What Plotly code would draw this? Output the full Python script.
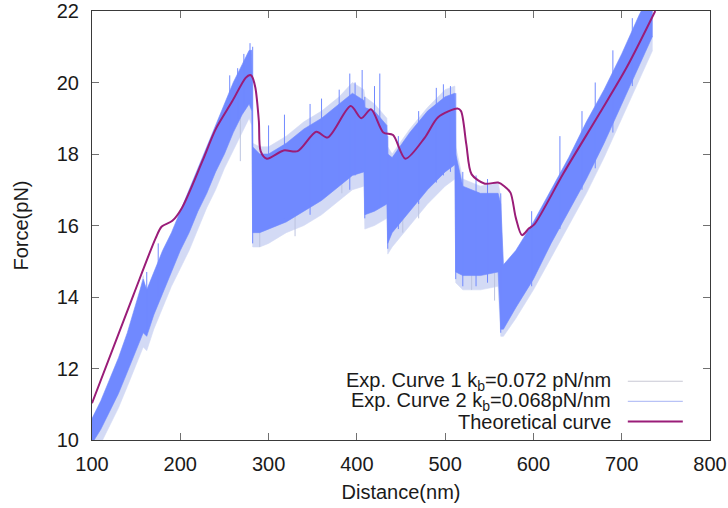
import plotly.graph_objects as go

# ---------------- data ----------------
# experimental force-extension traces: envelope of the noisy signal
x_exp = [100, 110, 120, 130, 140, 150, 158, 162, 170, 180, 190, 200, 210, 220, 230, 240, 250, 260, 270, 278, 281,
         282, 290, 300, 320, 340, 360, 380, 395, 408,
         409, 420, 434,
         435, 440, 460, 480, 500, 511,
         512, 520, 540, 560,
         563, 566, 580, 600, 620, 640, 660, 680, 700, 720, 735]
# Exp. curve 2 (dense blue core)
lo2 = [9.9, 10.3, 10.8, 11.3, 11.9, 12.5, 13.0, 12.9, 13.5, 14.1, 14.7, 15.3, 15.8, 16.4, 16.9, 17.5, 18.0, 18.6, 19.1, 19.4, 19.2,
       15.8, 15.8, 15.9, 16.1, 16.4, 16.7, 17.1, 17.4, 17.5,
       16.3, 16.4, 16.6,
       15.5, 15.8, 16.4, 17.0, 17.5, 17.7,
       14.7, 14.6, 14.6, 14.7,
       13.1, 13.1, 13.7, 14.5, 15.5, 16.4, 17.3, 18.3, 19.4, 20.5, 21.3]
hi2 = [10.6, 11.1, 11.7, 12.3, 13.0, 13.8, 14.5, 14.2, 14.7, 15.3, 15.8, 16.4, 17.0, 17.6, 18.2, 18.8, 19.4, 20.0, 20.5, 20.9, 20.9,
       18.2, 18.0, 18.0, 18.3, 18.7, 19.0, 19.4, 19.7, 19.5,
       19.3, 19.2, 18.8,
       18.0, 17.9, 18.6, 19.2, 19.6, 19.7,
       18.0, 17.1, 16.9, 16.9,
       16.6, 14.9, 15.3, 16.1, 17.0, 17.9, 18.9, 19.8, 20.8, 21.9, 22.6]
# Exp. curve 1 (light trace, slightly lower)
lo1 = [9.6, 9.9, 10.4, 10.9, 11.5, 12.1, 12.6, 12.5, 13.1, 13.7, 14.3, 14.8, 15.3, 15.9, 16.5, 17.0, 17.6, 18.1, 18.6, 19.0, 18.8,
       15.4, 15.4, 15.5, 15.8, 16.0, 16.3, 16.7, 17.0, 17.1,
       15.9, 16.0, 16.2,
       15.2, 15.4, 16.0, 16.6, 17.1, 17.3,
       14.4, 14.2, 14.2, 14.3,
       12.9, 12.9, 13.4, 14.2, 15.1, 16.0, 16.9, 17.9, 19.0, 20.1, 20.9]
hi1 = [10.5, 11.0, 11.5, 12.1, 12.8, 13.6, 14.6, 14.0, 14.6, 15.2, 15.7, 16.3, 16.9, 17.5, 18.1, 18.7, 19.3, 19.9, 20.4, 20.8, 20.8,
       18.3, 18.2, 18.2, 18.5, 18.9, 19.2, 19.6, 20.0, 19.8,
       19.6, 19.4, 19.0,
       18.2, 18.0, 18.7, 19.3, 19.8, 19.9,
       18.2, 17.3, 17.1, 17.2,
       16.8, 14.8, 15.2, 16.0, 16.9, 17.8, 18.8, 19.7, 20.7, 21.8, 22.5]

# prominent noise spikes visible in the traces (x, bottom, top)
spk2_x = [162, 175, 256, 265, 272, 279, 282, 300, 318, 347, 360, 380, 392, 398, 406, 409, 420, 426, 435, 447,
          470, 490, 498, 506, 512, 520, 535, 548, 563, 598, 630, 655, 670, 690, 712]
spk2_lo = [13.0, 14.0, 18.5, 19.0, 19.3, 19.5, 15.5, 16.0, 16.2, 16.3, 16.8, 17.2, 17.0, 17.4, 17.6, 16.2, 16.5, 16.6, 15.35, 15.9,
           16.6, 17.2, 17.4, 17.5, 14.5, 14.3, 14.3, 14.4, 13.0, 14.3, 15.9, 17.0, 17.6, 18.6, 19.9]
spk2_hi = [14.7, 15.5, 20.2, 20.4, 20.8, 21.1, 21.0, 18.8, 19.1, 19.4, 19.55, 19.8, 20.25, 20.0, 20.35, 19.6, 19.9, 20.25, 18.5, 18.5,
           19.2, 19.85, 19.95, 19.9, 19.7, 17.5, 17.4, 17.3, 16.9, 16.4, 18.5, 19.2, 20.0, 20.9, 21.8]
spk1_x = [268, 290, 330, 383, 452, 470, 530, 556]
spk1_lo = [17.8, 15.4, 15.7, 16.9, 15.8, 16.2, 14.2, 13.9]
spk1_hi = [19.5, 17.0, 17.5, 18.6, 17.5, 18.0, 15.5, 15.0]

# theoretical curve
x_th = [100, 147, 172, 179, 191, 202, 225, 240, 259, 274, 279, 281, 285, 289, 291, 298, 317, 333, 354, 367,
        393, 405, 416, 430, 441, 455, 477, 492, 514, 518, 524, 530, 545, 560, 567, 574, 580, 587, 595, 601,
        634, 675, 706, 738]
y_th = [11.03, 14.06, 15.64, 15.97, 16.13, 16.5, 17.8, 18.69, 19.48, 20.13, 20.21, 20.18, 19.86, 18.92, 18.08, 17.87,
        18.10, 18.08, 18.62, 18.46, 19.34, 19.0, 19.25, 18.6, 18.53, 17.87, 18.46, 19.03, 19.27, 19.2, 18.27, 17.43,
        17.17, 17.2, 17.1, 16.92, 16.22, 15.73, 15.92, 16.03, 17.46, 19.14, 20.44, 22.0]

x_ticks = [100, 200, 300, 400, 500, 600, 700, 800]
y_ticks = [10, 12, 14, 16, 18, 20, 22]

legend_names = ["Exp. Curve 1 k<sub>b</sub>=0.072 pN/nm",
                "Exp. Curve 2 k<sub>b</sub>=0.068pN/nm",
                "Theoretical curve"]

# ---------------- styles ----------------
C_LIGHT = "#d3daf5"
C_LIGHT_SPK = "#bcc4e0"
C_CORE = "#7089ff"
C_LEG1 = "#c8c8d4"
C_LEG2 = "#b8c2f6"
C_TH = "#9a1c78"
FONT = "Liberation Sans, Arial, sans-serif"
FS = 20


def segments(xs, los, his):
    px, py = [], []
    for xv, a, b in zip(xs, los, his):
        px += [xv, xv, None]
        py += [a, b, None]
    return px, py


fig = go.Figure()

# curve 1 band
fig.add_trace(go.Scatter(x=x_exp, y=hi1, mode="lines", line=dict(color=C_LIGHT, width=0.6),
                         showlegend=False, hoverinfo="skip"))
fig.add_trace(go.Scatter(x=x_exp, y=lo1, mode="lines", line=dict(color=C_LIGHT, width=0.6),
                         fill="tonexty", fillcolor=C_LIGHT, showlegend=False, hoverinfo="skip"))
sx, sy = segments(spk1_x, spk1_lo, spk1_hi)
fig.add_trace(go.Scatter(x=sx, y=sy, mode="lines", line=dict(color=C_LIGHT_SPK, width=1),
                         showlegend=False, hoverinfo="skip"))
# curve 2 band
fig.add_trace(go.Scatter(x=x_exp, y=hi2, mode="lines", line=dict(color=C_CORE, width=0.6),
                         showlegend=False, hoverinfo="skip"))
fig.add_trace(go.Scatter(x=x_exp, y=lo2, mode="lines", line=dict(color=C_CORE, width=0.6),
                         fill="tonexty", fillcolor=C_CORE, showlegend=False, hoverinfo="skip"))
sx, sy = segments(spk2_x, spk2_lo, spk2_hi)
fig.add_trace(go.Scatter(x=sx, y=sy, mode="lines", line=dict(color=C_CORE, width=1.0),
                         showlegend=False, hoverinfo="skip"))
# theoretical curve
fig.add_trace(go.Scatter(x=x_th, y=y_th, mode="lines",
                         line=dict(color=C_TH, width=2, shape="spline", smoothing=0.8),
                         showlegend=False))

# gnuplot-style key (text right aligned, sample to the right)
rows_y = [0.137, 0.090, 0.043]
leg_colors = [C_LEG1, C_LEG2, C_TH]
leg_widths = [1.2, 1.2, 2]
for name, yy, col, wd in zip(legend_names, rows_y, leg_colors, leg_widths):
    fig.add_annotation(x=0.843, y=yy, xref="paper", yref="paper", text=name, showarrow=False,
                       xanchor="right", yanchor="middle", font=dict(family=FONT, size=FS, color="#1a1a1a"))
    fig.add_shape(type="line", xref="paper", yref="paper", x0=0.867, x1=0.956, y0=yy, y1=yy,
                  line=dict(color=col, width=wd))

axis_common = dict(showline=True, linecolor="#3a3a3a", linewidth=1, mirror="ticks",
                   ticks="inside", ticklen=7, tickcolor="#707070", tickwidth=1,
                   showgrid=False, zeroline=False, automargin=False,
                   tickfont=dict(family=FONT, size=FS, color="#1a1a1a"))

fig.update_layout(
    width=728, height=508,
    margin=dict(l=92, r=18, t=11, b=68),
    paper_bgcolor="white", plot_bgcolor="white",
    xaxis=dict(range=[100, 800], tickvals=x_ticks, ticktext=[str(v) for v in x_ticks],
               title=dict(text="Distance(nm)", font=dict(family=FONT, size=FS, color="#1a1a1a"), standoff=10),
               ticklabelstandoff=6, **axis_common),
    yaxis=dict(range=[10, 22], tickvals=y_ticks, ticktext=[str(v) for v in y_ticks],
               title=dict(text="Force(pN)", font=dict(family=FONT, size=FS, color="#1a1a1a"), standoff=22),
               ticklabelstandoff=8, **axis_common),
)

fig.write_html("out.html", config={"displayModeBar": False},
               post_script="document.body.style.margin='0';document.body.style.overflow='hidden';")
